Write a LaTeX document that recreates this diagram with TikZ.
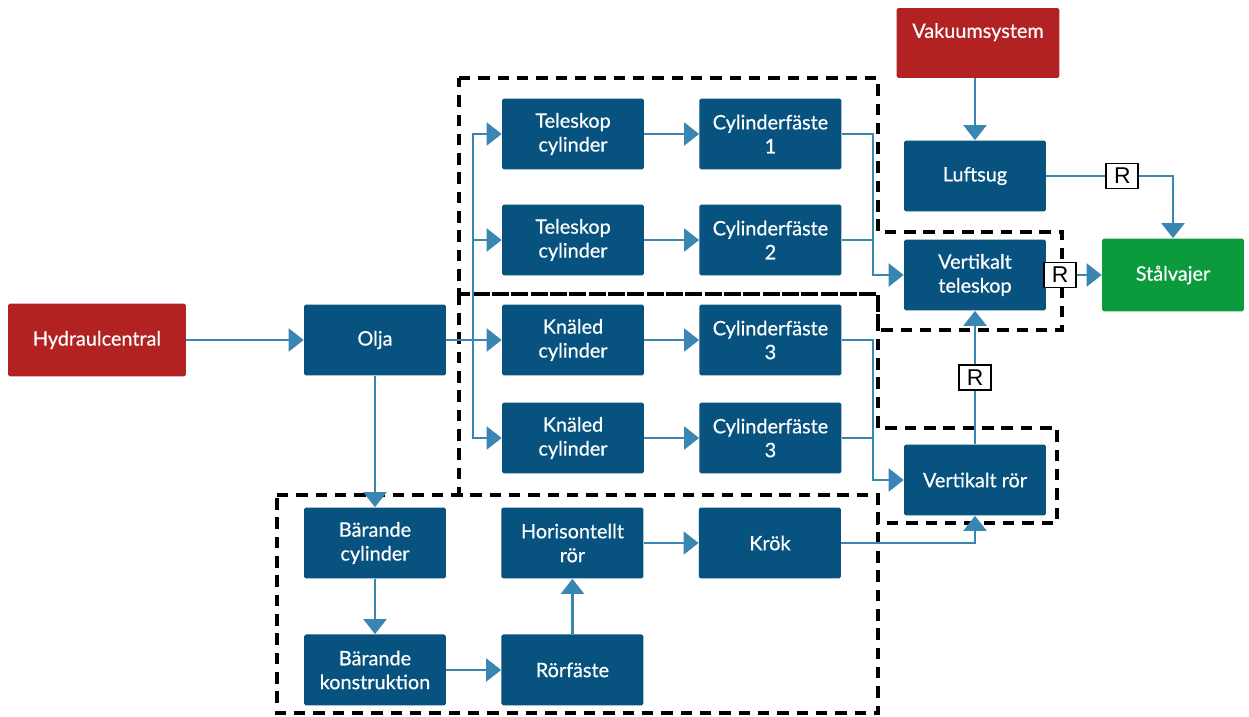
\documentclass[tikz,border=0pt]{standalone}
\usepackage{fontspec}
\setmainfont{Lato}[FakeBold=0.5]
\newfontfamily\rfont{Liberation Sans}
\usetikzlibrary{positioning, arrows.meta}

\definecolor{blockblue}{HTML}{07527F}
\definecolor{blockred}{HTML}{B22222}
\definecolor{blockgreen}{HTML}{0B9A3C}
\definecolor{pilblue}{HTML}{3A86B2}

\begin{document}
\begin{tikzpicture}[
        x=0.02cm, y=-0.02cm,
        >={Triangle[width=13pt, length=8.5pt]},
        node distance=3.95cm,
        font=\fontsize{11.3}{13.6}\selectfont,
        block/.style={
          fill=blockblue,
          text=white,
          align=center,
          minimum width=2.84cm,
          minimum height=1.42cm,
          inner sep=2pt,
          rounded corners=1pt
        },
        kalla/.style={block, fill=blockred},
        mal/.style={block, fill=blockgreen},
        pil/.style={->, color=pilblue, line width=1.4pt},
        ledning/.style={color=pilblue, line width=1.4pt},
        rbox/.style={
          draw=black,
          fill=white,
          text=black,
          line width=1.1pt,
          font=\rfont\fontsize{13}{13}\selectfont,
          inner sep=1pt,
          minimum width=0.64cm,
          minimum height=0.5cm
        },
        grupp/.style={draw, line width=2.2pt, dash pattern=on 6.5pt off 4.5pt}
      ]

      \useasboundingbox (0,0) rectangle (1249,717);

      % Block
      \node[kalla, minimum width=3.56cm, minimum height=1.46cm] (hyd) at (97,340) {Hydraulcentral};
      \node[block] (olja) at (375,340) {Olja};

      \node[block] (tc1) at (573,134) {Teleskop\\cylinder};
      \node[block, right of=tc1] (cf1) {Cylinderfäste\\1};
      \node[block] (tc2) at (573,240) {Teleskop\\cylinder};
      \node[block, right of=tc2] (cf2) {Cylinderfäste\\2};
      \node[block] (kc1) at (573,340) {Knäled\\cylinder};
      \node[block, right of=kc1] (cf3) {Cylinderfäste\\3};
      \node[block] (kc2) at (573,438) {Knäled\\cylinder};
      \node[block, right of=kc2] (cf4) {Cylinderfäste\\3};

      \node[kalla, minimum width=3.26cm, minimum height=1.4cm, text depth=0.5cm] (vak) at (978,43) {Vakuumsystem};
      \node[block] (luft) at (975,176) {Luftsug};
      \node[block] (vtel) at (975,275) {Vertikalt\\teleskop};
      \node[mal, minimum height=1.46cm] (stal) at (1173,275) {Stålvajer};
      \node[block] (vror) at (975,480) {Vertikalt rör};

      \node[block] (bc) at (375,543) {Bärande\\cylinder};
      \node[block, right of=bc] (hr) {Horisontellt\\rör};
      \node[block, right of=hr] (krok) {Krök};
      \node[block, below of=bc, node distance=2.54cm] (bk) {Bärande\\konstruktion};
      \node[block, right of=bk] (rf) {Rörfäste};

      % Grupper
      \draw[grupp] (459,78) -- (878,78) -- (878,232) -- (1062,232) -- (1062,330)
        -- (878,330) -- (878,294) -- (459,294) -- cycle;
      \draw[grupp] (459,294) -- (878,294) -- (878,428) -- (1057,428) -- (1057,523)
        -- (878,523) -- (878,495) -- (459,495) -- cycle;
      \draw[grupp] (277,495) -- (878,495) -- (878,713) -- (277,713) -- cycle;

      % Pilar
      \coordinate (buss) at (473,340);
      \coordinate (samla) at (873,0);

      \foreach \c in {tc1,tc2,kc1,kc2}
        \draw[pil] (olja.east) -| (buss |- \c) -- (\c.west);

      \draw[pil] (cf1.east) -| (samla |- vtel) -- (vtel.west);
      \draw[ledning] (cf2.east) -- (cf2.east -| samla);
      \draw[pil] (cf3.east) -| (samla |- vror) -- (vror.west);
      \draw[ledning] (cf4.east) -- (cf4.east -| samla);
      \draw[pil] (krok.east) -| (vror.south);
      \draw[pil] (luft.east) -| node[rbox, pos=0.3] {R} (stal.north);

      \path[pil]
      (hyd) edge (olja)
      (olja) edge (bc)
      (bc) edge (bk)
      (bk) edge (rf)
      (rf) edge (hr)
      (hr) edge (krok)
      (tc1) edge (cf1)
      (tc2) edge (cf2)
      (kc1) edge (cf3)
      (kc2) edge (cf4)
      (luft.north |- vak.south) edge (luft)
      (vror) edge node[rbox] {R} (vtel)
      (vtel) edge node[rbox, pos=0.25] {R} (stal);

    \end{tikzpicture}
\end{document}
